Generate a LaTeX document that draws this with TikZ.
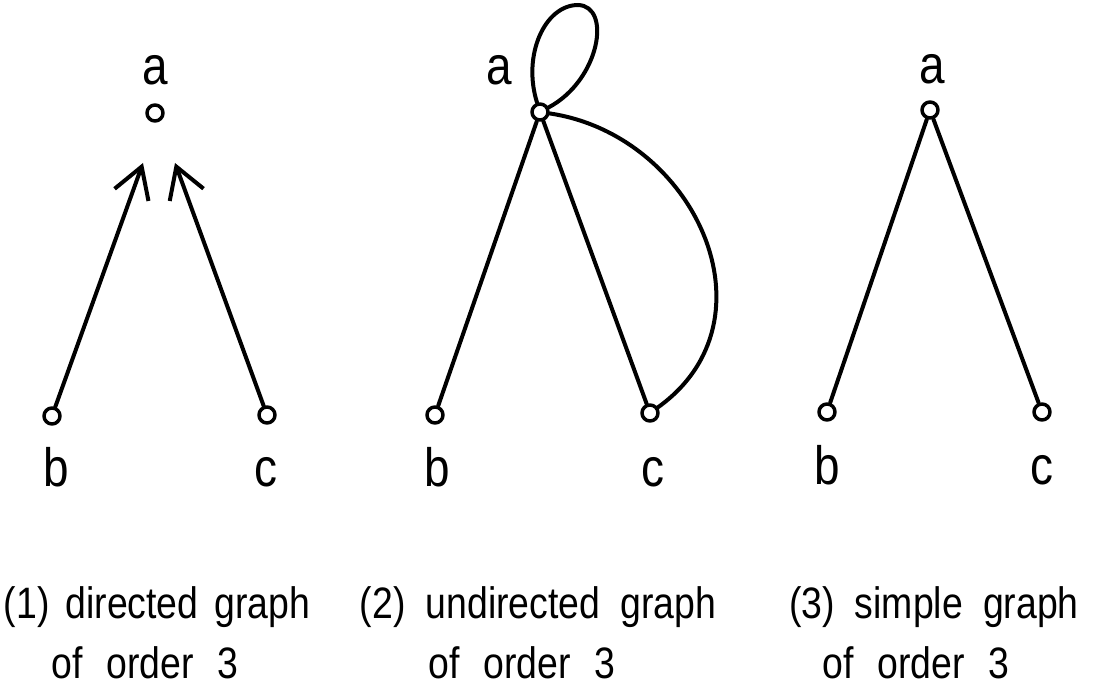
\documentclass[tikz,border=0pt]{standalone}
\usepackage{fontspec}
\setmainfont{Liberation Sans}
\newfontfamily\plotfont{Liberation Sans}[FakeStretch=0.85]
\usetikzlibrary{arrows.meta}
\newcommand{\gp}{\hspace{20pt}}
\newcommand{\gs}{\hspace{16pt}}
\newcommand{\gq}{\hspace{24pt}}
\begin{document}
\begin{tikzpicture}[x=1pt,y=-1pt,line width=4pt,line cap=round,line join=round,
  vert/.style={circle,draw,line width=3.5pt,minimum size=16pt,inner sep=0pt,fill=white},
  lab/.style={font=\plotfont\fontsize{54}{54}\selectfont,anchor=base,inner sep=0pt},
  captxt/.style={font=\plotfont\fontsize{44}{44}\selectfont,anchor=base,inner sep=0pt},
  arr/.style={-{Straight Barb[length=30pt,width=36pt,line width=4pt]}}]
\useasboundingbox (0,0) rectangle (1111,692);
% graph 1
\node[vert] (a1) at (155,113) {};
\node[vert] (b1) at (52,416) {};
\node[vert] (c1) at (267,415) {};
\coordinate (t1) at (143,163);
\coordinate (t2) at (175,163);
\draw[arr] (b1) -- (t1);
\draw[arr] (c1) -- (t2);
\node[lab] (la1) at (155,85) {a};
\node[lab] (lb1) at (56,486) {b};
\node[lab] (lc1) at (266,486) {c};
% graph 2
\node[vert] (a2) at (540,112) {};
\node[vert] (b2) at (435,415) {};
\node[vert] (c2) at (650,413) {};
\draw (a2) -- (b2);
\draw (a2) -- (c2);
\draw (a2) .. controls (695,135) and (780,320) .. (c2);
\draw (a2) .. controls (522,55) and (545,5) .. (578,5) .. controls (612,6) and (600,80) .. (a2);
\node[lab] (la2) at (499,85) {a};
\node[lab] (lb2) at (437,486) {b};
\node[lab] (lc2) at (653,486) {c};
% graph 3
\node[vert] (a3) at (930,110) {};
\node[vert] (b3) at (827,412) {};
\node[vert] (c3) at (1042,412) {};
\draw (a3) -- (b3);
\draw (a3) -- (c3);
\node[lab] (la3) at (932,84) {a};
\node[lab] (lb3) at (827,484) {b};
\node[lab] (lc3) at (1042,484) {c};
% captions
\node[captxt] (k1) at (157,618) {(1)\gs directed\gs graph};
\node[captxt] (k1b) at (145,678) {of\gq order\gq 3};
\node[captxt] (k2) at (538,618) {(2)\gp undirected\gp graph};
\node[captxt] (k2b) at (522,678) {of\gq order\gq 3};
\node[captxt] (k3) at (934,618) {(3)\gp simple\gp graph};
\node[captxt] (k3b) at (916,678) {of\gq order\gq 3};
\end{tikzpicture}
\end{document}
